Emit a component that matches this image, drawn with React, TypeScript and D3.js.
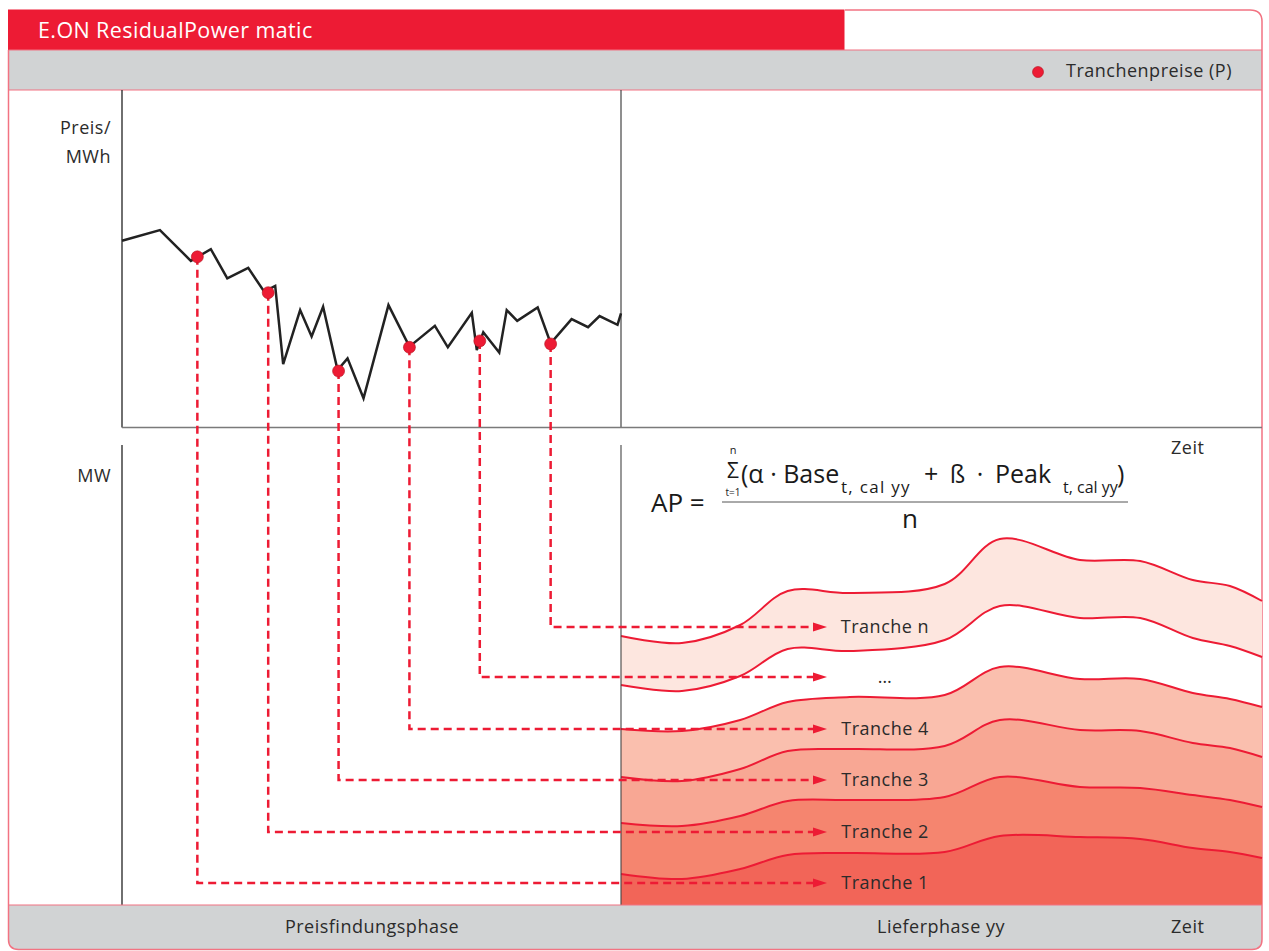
import React, { useRef, useEffect } from "react"
import * as d3 from "d3"

// price discovery phase: price per MWh over time (0..100)
const priceTime = [0, 7.6, 13.8, 17.8, 21.1, 25.3, 28.5, 30.7, 32.3, 35.7, 38.0, 40.3, 43.2, 45.2, 48.4, 53.4, 57.6, 62.7, 65.3, 70.1, 71.1, 72.4, 75.6, 77.1, 79.2, 83.3, 85.9, 90.1, 93.4, 95.7, 99.3, 100]
const priceValues = [55, 58.2, 49.0, 52.5, 43.8, 46.9, 39.8, 41.5, 18.2, 34.3, 26.4, 35.3, 16.4, 19.9, 8.0, 35.8, 23.4, 29.6, 23.2, 33.5, 22.4, 27.7, 21.6, 34.3, 31.1, 35.1, 24.4, 31.6, 29.2, 32.5, 29.9, 33.3]

// tranche price fixings (red dots)
const fixingTime = [15.1, 29.3, 43.4, 57.6, 71.7, 85.9]
const fixingPrice = [50.2, 39.5, 16.1, 23.2, 25.1, 24.2]

// tranche labels and the MW level the arrows point to
const trancheLabels = ["Tranche 1", "Tranche 2", "Tranche 3", "Tranche 4", "…", "Tranche n"]
const trancheArrowMW = [4.4, 14.6, 25, 35.2, 45.6, 55.6]

// delivery phase: MW of each tranche over time (0..100)
const deliveryTime = [0, 9.5, 18.6, 26, 35.7, 50.5, 59.1, 71.6, 81, 89.2, 95, 100]
const tranche1 = [6.2, 5.2, 7.2, 10, 10.4, 10.6, 13.8, 13.6, 13.2, 11.4, 10.6, 9.4]
const tranche2 = [10.2, 10.6, 10.6, 10.8, 10.6, 11.0, 11.8, 10.0, 10.2, 10.6, 10.4, 10.2]
const tranche3 = [9.2, 9.0, 9.4, 10.0, 10.2, 10.2, 11.4, 11.4, 11.4, 10.4, 10.4, 10.0]
const tranche4 = [9.6, 10.0, 9.8, 9.8, 10.4, 10.2, 10.6, 10.2, 10.4, 10.0, 9.8, 10.0]
const trancheGap = [8.8, 8.0, 8.8, 10.6, 9.2, 11.0, 12.2, 12.2, 12.2, 11.0, 10.6, 10.0]
const trancheN = [9.8, 9.6, 10.2, 11.6, 11.6, 11.2, 13.4, 11.6, 11.4, 11.6, 12.0, 11.2]

const trancheKeys = ["t1", "t2", "t3", "t4", "gap", "tn"]
const trancheFills = ["#F26558", "#F5856F", "#F8A794", "#FABFAE", "none", "#FDE6DF"]

const RED = "#ED1B34"
const PINK = "#F27382"
const GREY = "#D1D3D4"
const TEXT = "#2b2b2b"
const FONT = "'Open Sans', 'Noto Sans', sans-serif"

const W = 1269
const H = 951

const App: React.FC = () => {
  const svgRef = useRef<SVGSVGElement | null>(null)

  useEffect(() => {
    if (!svgRef.current) return
    document.body.style.margin = "0"
    const svg = d3.select(svgRef.current)
    svg.selectAll("*").remove()

    const left = 8.5
    const right = 1262
    const top = 9.5
    const bottom = 949.5
    const axisX = 122
    const splitX = 621

    // scales
    const xP = d3.scaleLinear().domain([0, 100]).range([axisX, splitX])
    const yP = d3.scaleLinear().domain([0, 100]).range([425, 90])
    const xD = d3.scaleLinear().domain([0, 100]).range([splitX, right])
    const yMW = d3.scaleLinear().domain([0, 92]).range([905, 445])

    svg.append("rect").attr("x", 0).attr("y", 0).attr("width", W).attr("height", H).attr("fill", "#fff")

    // bottom grey bar with rounded corners
    const r = 10
    svg.append("path")
      .attr("d", `M${left},905 L${left},${bottom - r} Q${left},${bottom} ${left + r},${bottom} L${right - r},${bottom} Q${right},${bottom} ${right},${bottom - r} L${right},905 Z`)
      .attr("fill", GREY)

    // top grey bar
    svg.append("rect").attr("x", left).attr("y", 50).attr("width", right - left).attr("height", 40).attr("fill", GREY)

    // red title bar
    svg.append("rect").attr("x", left - 0.5).attr("y", top).attr("width", 845 - left).attr("height", 50 - top).attr("fill", RED)
    svg.append("text")
      .attr("x", 38).attr("y", 38)
      .attr("fill", "#fff")
      .style("font-family", FONT).style("font-size", "21.5px").style("letter-spacing", "0.4px")
      .text("E.ON ResidualPower matic")

    // outer pink border
    const rc = 12
    svg.append("path")
      .attr("d", `M845,${top + 0.5} L${right - rc},${top + 0.5} Q${right},${top + 0.5} ${right},${top + rc} L${right},${bottom - r} Q${right},${bottom} ${right - r},${bottom} L${left + r},${bottom} Q${left},${bottom} ${left},${bottom - r} L${left},50`)
      .attr("fill", "none").attr("stroke", PINK).attr("stroke-width", 1.5)
    svg.append("line").attr("x1", left).attr("x2", right).attr("y1", 50).attr("y2", 50).attr("stroke", PINK).attr("stroke-width", 1.2)
    svg.append("line").attr("x1", left).attr("x2", right).attr("y1", 90).attr("y2", 90).attr("stroke", PINK).attr("stroke-width", 1.2)

    const label = (x: number, y: number, t: string, anchor = "start", size = 18) =>
      svg.append("text")
        .attr("x", x).attr("y", y)
        .attr("text-anchor", anchor)
        .attr("fill", TEXT)
        .style("font-family", FONT).style("font-size", `${size}px`).style("letter-spacing", "0.5px")
        .text(t)

    // legend
    svg.append("circle").attr("cx", 1038).attr("cy", 72).attr("r", 5.5).attr("fill", RED).attr("stroke", "#b3121f").attr("stroke-width", 0.6)
    label(1066, 77, "Tranchenpreise (P)")

    // delivery phase stacked tranches
    const rows = deliveryTime.map((t, i) => ({
      t,
      t1: tranche1[i],
      t2: tranche2[i],
      t3: tranche3[i],
      t4: tranche4[i],
      gap: trancheGap[i],
      tn: trancheN[i],
    }))
    const stacked = d3.stack<any>().keys(trancheKeys)(rows)
    const curve = d3.curveCatmullRom.alpha(0.5)
    const area = d3.area<any>()
      .x((d) => xD(d.data.t))
      .y0((d) => yMW(d[0]))
      .y1((d) => yMW(d[1]))
      .curve(curve)
    const topLine = d3.line<any>()
      .x((d) => xD(d.data.t))
      .y((d) => yMW(d[1]))
      .curve(curve)

    const g = svg.append("g")
    g.selectAll("path.band")
      .data(stacked)
      .join("path")
      .attr("class", "band")
      .attr("d", (d) => area(d as any) as string)
      .attr("fill", (_, i) => trancheFills[i])
    g.selectAll("path.edge")
      .data(stacked)
      .join("path")
      .attr("class", "edge")
      .attr("d", (d) => topLine(d as any) as string)
      .attr("fill", "none")
      .attr("stroke", RED)
      .attr("stroke-width", 2)

    // axes
    svg.append("line").attr("x1", axisX).attr("x2", axisX).attr("y1", 90).attr("y2", 427.5).attr("stroke", "#222").attr("stroke-width", 1.3)
    svg.append("line").attr("x1", axisX).attr("x2", axisX).attr("y1", 445).attr("y2", 905).attr("stroke", "#222").attr("stroke-width", 1.3)
    svg.append("line").attr("x1", splitX).attr("x2", splitX).attr("y1", 90).attr("y2", 427.5).attr("stroke", "#333").attr("stroke-width", 1.1)
    svg.append("line").attr("x1", splitX).attr("x2", splitX).attr("y1", 445).attr("y2", 905).attr("stroke", "#444").attr("stroke-width", 1.1)
    svg.append("line").attr("x1", axisX).attr("x2", right).attr("y1", 427.5).attr("y2", 427.5).attr("stroke", "#7a7a7a").attr("stroke-width", 1.3)
    svg.append("line").attr("x1", left).attr("x2", right).attr("y1", 905).attr("y2", 905).attr("stroke", PINK).attr("stroke-width", 1.2)

    // axis labels
    label(111, 134, "Preis/", "end")
    label(111, 163, "MWh", "end")
    label(111, 482, "MW", "end")
    label(1171, 454, "Zeit")
    label(372, 933, "Preisfindungsphase", "middle")
    label(877, 933, "Lieferphase yy")
    label(1171, 933, "Zeit")

    // price line
    const priceLine = d3.line<number>()
      .x((_, i) => xP(priceTime[i]))
      .y((d) => yP(d))
    svg.append("path")
      .datum(priceValues)
      .attr("d", priceLine)
      .attr("fill", "none")
      .attr("stroke", "#222")
      .attr("stroke-width", 2.5)
      .attr("stroke-linejoin", "miter")

    // dashed connectors from fixing to tranche
    const arrowTip = 827
    const conn = svg.append("g")
    fixingTime.forEach((t, i) => {
      const x = xP(t)
      const y0 = yP(fixingPrice[i])
      const y1 = yMW(trancheArrowMW[i])
      conn.append("path")
        .attr("d", `M${x},${y0} L${x},${y1} L${arrowTip - 12},${y1}`)
        .attr("fill", "none")
        .attr("stroke", RED)
        .attr("stroke-width", 2.5)
        .attr("stroke-dasharray", "8 5")
      conn.append("path")
        .attr("d", `M${arrowTip - 14},${y1 - 4.5} L${arrowTip},${y1} L${arrowTip - 14},${y1 + 4.5} Z`)
        .attr("fill", RED)
      label(885, y1 + 6, trancheLabels[i], "middle")
    })

    // fixing dots
    svg.append("g")
      .selectAll("circle")
      .data(fixingTime)
      .join("circle")
      .attr("cx", (d) => xP(d))
      .attr("cy", (_, i) => yP(fixingPrice[i]))
      .attr("r", 6)
      .attr("fill", RED)
      .attr("stroke", "#b3121f")
      .attr("stroke-width", 0.6)

    // formula
    const f = svg.append("g").attr("fill", "#1a1a1a").style("font-family", FONT)
    f.append("text").attr("x", 651).attr("y", 512).style("font-size", "26px").text("AP =")
    f.append("text").attr("x", 733).attr("y", 454).attr("text-anchor", "middle").style("font-size", "11px").text("n")
    f.append("text").attr("x", 733).attr("y", 478).attr("text-anchor", "middle").style("font-size", "21px").text("Σ")
    f.append("text").attr("x", 733).attr("y", 496).attr("text-anchor", "middle").style("font-size", "10px").text("t=1")
    const num = f.append("text").attr("y", 483).style("font-size", "25px")
    num.append("tspan").attr("x", 741).text("(α · Base")
    num.append("tspan").attr("x", 841).attr("y", 493).style("font-size", "17px").style("letter-spacing", "1.3px").text("t, cal yy")
    num.append("tspan").attr("x", 924).attr("y", 483).style("word-spacing", "5px").text("+ ß · Peak")
    num.append("tspan").attr("x", 1063).attr("y", 493).style("font-size", "16px").text("t, cal yy")
    num.append("tspan").attr("x", 1117).attr("y", 483).text(")")
    f.append("line").attr("x1", 722).attr("x2", 1128).attr("y1", 502).attr("y2", 502).attr("stroke", "#555").attr("stroke-width", 1)
    f.append("text").attr("x", 910).attr("y", 528).attr("text-anchor", "middle").style("font-size", "26px").text("n")
  }, [])

  return (
    <svg
      ref={svgRef}
      width={W}
      height={H}
      style={{ position: "absolute", left: 0, top: 0, display: "block" }}
    ></svg>
  )
}

export default App
